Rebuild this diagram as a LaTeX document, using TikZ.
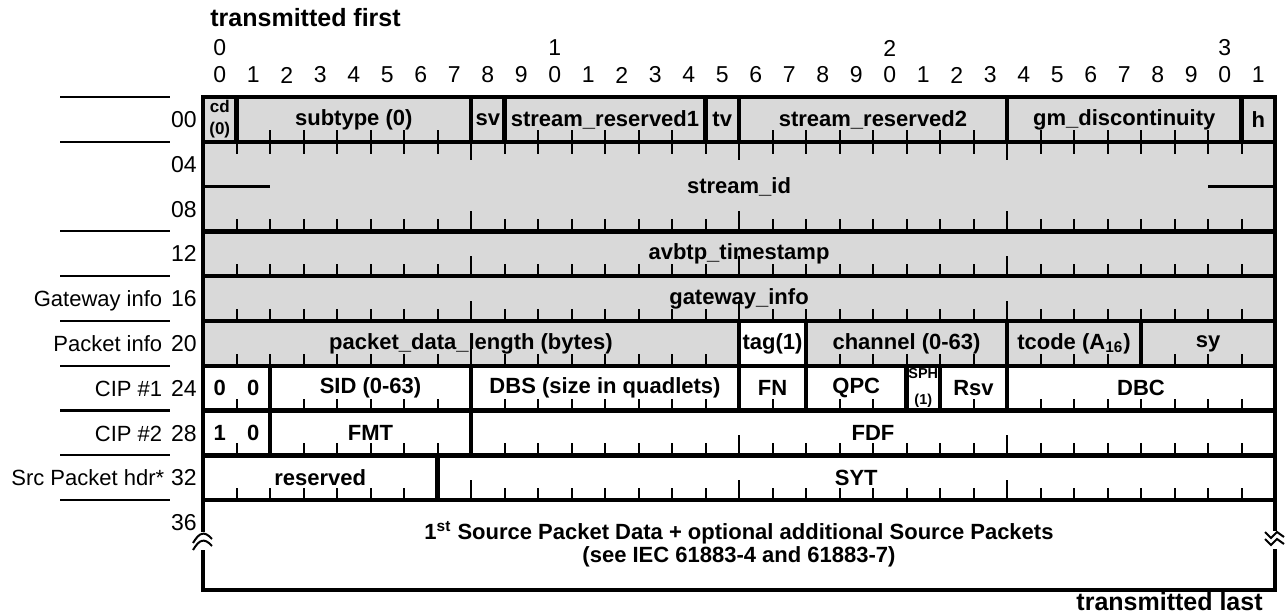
\documentclass[tikz,border=0pt]{standalone}
\usepackage{fontspec}
\setmainfont{Liberation Sans}
\usetikzlibrary{positioning}

% one packet field: style, name, row, first bit, bit after last, text
\newcommand\fld[6]{\node[#1, minimum width={(#5-#4)*16.75pt}] (#2) at ({203+33.5*#4},{97+44.8*#3}) {#6};}

\begin{document}
\begin{tikzpicture}[x=0.5pt, y=-0.5pt,
    field/.style={draw, line width=2.2pt, anchor=north west, inner sep=0pt, outer sep=0pt, minimum height=22.4pt, align=center, font=\fontsize{11}{13}\selectfont\bfseries},
    field gray/.style={field, fill=black!15},
    field white/.style={field, fill=white},
    small bits/.style={font=\fontsize{8.5}{11}\selectfont\bfseries},
    bittick/.style={line width=1pt},
    bitnum/.style={inner sep=0pt, font=\fontsize{11.5}{13}\selectfont},
    row label/.style={inner sep=0pt, anchor=east, text height=8.2pt, text depth=0pt, font=\fontsize{11.5}{13}\selectfont},
    side label/.style={inner sep=0pt, text height=8.2pt, text depth=0pt, font=\fontsize{11}{13}\selectfont},
    edge label/.style={inner sep=0pt, font=\fontsize{12.5}{14}\selectfont\bfseries},
    rule line/.style={line width=1.1pt}
  ]
    \useasboundingbox (0,0) rectangle (1285,614);
    \fill[white] (0,0) rectangle (1285,614);

    % header
    \node[edge label, anchor=west] (first) at (210,18) {transmitted first};
    \foreach \b/\t in {0/0,10/1,20/2,30/3}
      \node[bitnum] (dec\t) at ({203+33.5*(\b+0.5)},48) {\t};
    \foreach \b in {0,...,31}{
      \pgfmathtruncatemacro\d{mod(\b,10)}
      \node[bitnum] (bit\b) at ({203+33.5*(\b+0.5)},75) {\d};
    }

    % fields
    \fld{field gray, small bits}{cd}{0}{0}{1}{cd\\(0)}
    \fld{field gray}{subtype}{0}{1}{8}{subtype (0)}
    \fld{field gray}{sv}{0}{8}{9}{sv}
    \fld{field gray}{sres1}{0}{9}{15}{stream\_reserved1}
    \fld{field gray}{tv}{0}{15}{16}{tv}
    \fld{field gray}{sres2}{0}{16}{24}{stream\_reserved2}
    \fld{field gray}{gmdisc}{0}{24}{31}{gm\_discontinuity}
    \fld{field gray}{hbit}{0}{31}{32}{h}
    \fld{field gray, minimum height=44.8pt}{streamid}{1}{0}{32}{stream\_id}
    \fld{field gray}{avtstamp}{3}{0}{32}{avbtp\_timestamp}
    \fld{field gray}{gwinfo}{4}{0}{32}{gateway\_info}
    \fld{field gray}{pktlen}{5}{0}{16}{packet\_data\_length (bytes)}
    \fld{field gray}{channel}{5}{18}{24}{channel (0-63)}
    \fld{field gray}{tcode}{5}{24}{28}{tcode (A\textsubscript{16})}
    \fld{field gray}{sy}{5}{28}{32}{sy}
    \fld{field white}{cipa}{6}{0}{2}{\makebox[16.75pt]{0}\makebox[16.75pt]{0}}
    \fld{field white}{sid}{6}{2}{8}{SID (0-63)}
    \fld{field white}{dbs}{6}{8}{16}{DBS (size in quadlets)}
    \fld{field white}{fn}{6}{16}{18}{FN}
    \fld{field white}{qpc}{6}{18}{21}{QPC}
    \fld{field white, small bits, font=\fontsize{7.2}{13}\selectfont\bfseries}{sph}{6}{21}{22}{SPH\\(1)}
    \fld{field white}{rsv}{6}{22}{24}{Rsv}
    \fld{field white}{dbc}{6}{24}{32}{DBC}
    \fld{field white}{cipb}{7}{0}{2}{\makebox[16.75pt]{1}\makebox[16.75pt]{0}}
    \fld{field white}{fmt}{7}{2}{8}{FMT}
    \fld{field white}{fdf}{7}{8}{32}{FDF}
    \fld{field white}{rsvd}{8}{0}{7}{reserved}
    \fld{field white}{syt}{8}{7}{32}{SYT}
    \fld{field white, minimum height=44.8pt}{srcdata}{9}{0}{32}{\raisebox{-3pt}{\fontsize{11}{11.5}\selectfont\begin{tabular}{@{}c@{}}1\textsuperscript{st} Source Packet Data + optional additional Source Packets\\(see IEC 61883-4 and 61883-7)\end{tabular}}}

    % bit ticks
    \foreach \r in {1,3,4,5,6,7,8,9}
      \foreach \b in {1,...,31}{
        \pgfmathsetmacro\tl{ifthenelse(mod(\b,8)==0,20,12)}
        \draw[bittick] ({203+33.5*\b},{97+44.8*\r}) -- ++(0,-\tl);
      }
    \foreach \b in {1,...,31}{
      \pgfmathsetmacro\tl{ifthenelse(mod(\b,8)==0,18,12)}
      \draw[bittick] ({203+33.5*\b},{97+44.8}) -- ++(0,\tl);
    }
    \fld{field white}{tag}{5}{16}{18}{tag(1)}

    % stream_id marks
    \draw[rule line] (streamid.west) -- ++(67,0);
    \draw[rule line] (streamid.east) -- ++(-67,0);

    % breaks in the data block
    \coordinate (brkL) at ([yshift=2pt]srcdata.west);
    \coordinate (brkR) at ([yshift=2.5pt]srcdata.east);
    \begin{scope}[shift={(brkL)}]
      \fill[white] (-3,-9) rectangle (3,9);
      \draw[line width=1pt] (-10,2) .. controls (-4,-8) and (1,-11) .. (9,-2);
      \draw[line width=1pt] (-10,9) .. controls (-4,-1) and (1,-4) .. (9,5);
    \end{scope}
    \begin{scope}[shift={(brkR)}]
      \fill[white] (-3,-9) rectangle (3,9);
      \draw[line width=1pt] (-10,-8) -- (-4,-2) -- (2,-8) -- (9,-3);
      \draw[line width=1pt] (-10,-1) -- (-4,5) -- (2,-1) -- (9,4);
    \end{scope}

    % row offsets and side labels
    \foreach \r/\n in {0/00,1/04,2/08,3/12,4/16,5/20,6/24,7/28,8/32,9/36}
      \node[row label] (row\n) at (197,{97+44.8*(\r+0.5)}) {\n};
    \node[side label, left=4pt of row16] (gwlbl) {Gateway info};
    \node[side label, left=4pt of row20] (pktlbl) {Packet info};
    \node[side label, left=4pt of row24] (cipalbl) {CIP \#1};
    \node[side label, left=4pt of row28] (cipblbl) {CIP \#2};
    \node[side label, left=3pt of row32] (srclbl) {Src Packet hdr*};
    \foreach \k in {0,1,3,4,5,6,7,8,9}
      \draw[rule line] (60,{97+44.8*\k}) -- (170,{97+44.8*\k});

    \node[edge label, anchor=east] (last) at (1263,602) {transmitted last};
\end{tikzpicture}
\end{document}
